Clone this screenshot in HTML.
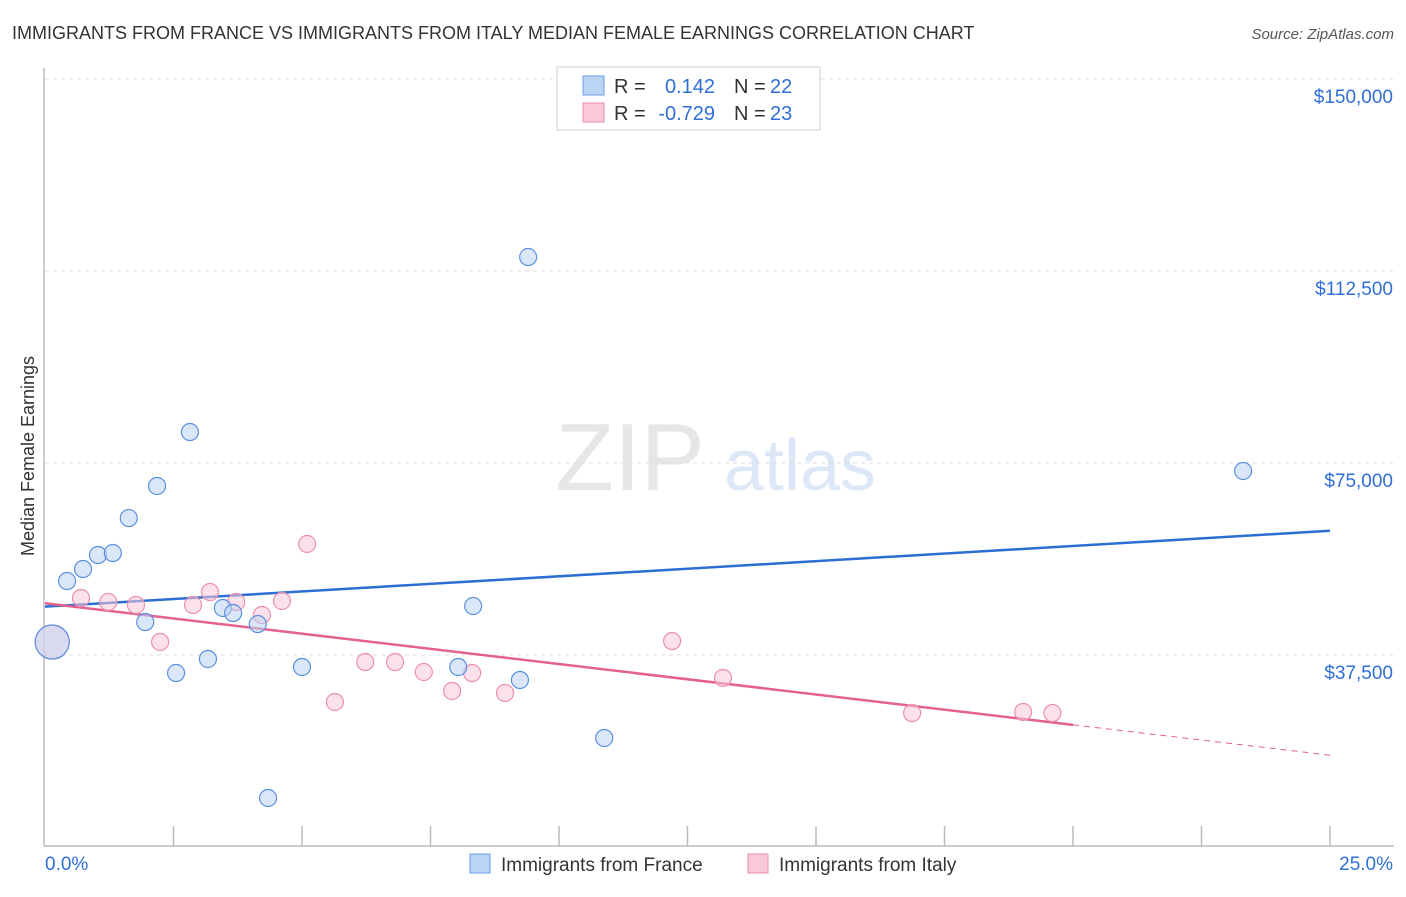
<!DOCTYPE html>
<html><head><meta charset="utf-8"><style>
body{margin:0;background:#fff;font-family:"Liberation Sans",sans-serif;}
svg text{font-family:"Liberation Sans",sans-serif;}
</style></head><body>
<svg id="chart" width="1406" height="892" xmlns="http://www.w3.org/2000/svg">
<text x="12" y="39" font-size="18" fill="#333">IMMIGRANTS FROM FRANCE VS IMMIGRANTS FROM ITALY MEDIAN FEMALE EARNINGS CORRELATION CHART</text>
<text x="1394" y="39" font-size="15" fill="#555" text-anchor="end" font-style="italic">Source: ZipAtlas.com</text>
<text x="630" y="490" font-size="96" fill="#e6e6e6" text-anchor="middle" font-family="Liberation Serif">ZIP</text>
<text x="800" y="490" font-size="72" fill="#dce8f7" text-anchor="middle">atlas</text>
<text transform="translate(34,456) rotate(-90)" font-size="18" fill="#333" text-anchor="middle">Median Female Earnings</text>
<g id="grid"></g><g id="axes"></g><g id="lines"></g><g id="pts"></g>
<g>
<rect x="557" y="67" width="263" height="63" fill="#fff" stroke="#ccc"/>
<rect x="583" y="76" width="21" height="19" fill="#bcd4f4" stroke="#6a9ee6"/>
<rect x="583" y="103" width="21" height="19" fill="#f9c9d8" stroke="#ea8fae"/>
<text x="614" y="93" font-size="20" fill="#333">R =</text><text x="715" y="93" font-size="20" fill="#2f6fd6" text-anchor="end">0.142</text>
<text x="734" y="93" font-size="20" fill="#333">N =</text><text x="770" y="93" font-size="20" fill="#2f6fd6">22</text>
<text x="614" y="120" font-size="20" fill="#333">R =</text><text x="715" y="120" font-size="20" fill="#2f6fd6" text-anchor="end">-0.729</text>
<text x="734" y="120" font-size="20" fill="#333">N =</text><text x="770" y="120" font-size="20" fill="#2f6fd6">23</text>
</g>
<g>
<rect x="470" y="854" width="20" height="19" fill="#bcd4f4" stroke="#6a9ee6"/>
<text x="501" y="871" font-size="19" fill="#333">Immigrants from France</text>
<rect x="748" y="854" width="20" height="19" fill="#f9c9d8" stroke="#ea8fae"/>
<text x="779" y="871" font-size="19" fill="#333">Immigrants from Italy</text>
</g>
</svg>
<script>
const franceX=[0.14,0.43,0.74,1.03,1.32,1.63,1.95,2.18,2.55,2.82,3.17,3.46,3.66,4.14,4.34,5.00,8.04,8.33,9.24,9.40,10.88,23.31];
const franceY=[40040,51950,54290,57030,57420,64250,43940,70510,33980,81050,36720,46680,45700,43550,9570,35160,35160,47070,32620,115230,21290,73440];
const italyX=[0.14,0.70,1.23,1.77,2.24,2.88,3.21,3.72,4.22,4.61,5.10,5.64,6.23,6.81,7.37,7.92,8.31,8.95,12.20,13.19,16.87,19.03,19.60];
const italyY=[40040,48630,47850,47270,40040,47270,49800,47850,45310,48050,59180,28320,36130,36130,34180,30470,33980,30080,40230,33010,26170,26370,26170];
const yTicks=[37500,75000,112500,150000];
const yTickLabels=["$37,500","$75,000","$112,500","$150,000"];
const xTickLabels=["0.0%","25.0%"];
const NS="http://www.w3.org/2000/svg";
const X=v=>45+v/25*1285;
const Y=v=>847-v/37500*192;
function mk(p,t,a){const e=document.createElementNS(NS,t);for(const k in a)e.setAttribute(k,a[k]);document.getElementById(p).appendChild(e);return e;}
yTicks.forEach((t,i)=>{
 const g=mk('grid','line',{x1:45,x2:1394,y1:Y(t),y2:Y(t),stroke:'#ddd','stroke-dasharray':'4,4'});
 
 
 const l=mk('axes','text',{x:1393,y:Y(t)+24,'font-size':19,fill:'#2f6fd6','text-anchor':'end'});l.textContent=yTickLabels[i];
 
 
});
const ax=mk('axes','line',{x1:44,x2:44,y1:68,y2:846,stroke:'#bbb','stroke-width':1.5});


const bx=mk('axes','line',{x1:44,x2:1394,y1:846,y2:846,stroke:'#bbb','stroke-width':1.5});


for(let i=1;i<=10;i++){const t=mk('axes','line',{x1:X(i*2.5),x2:X(i*2.5),y1:826,y2:846,stroke:'#bbb','stroke-width':1.5});
 
 }
xTickLabels.forEach((s,i)=>{const t=mk('axes','text',{x:i?1393:45,y:870,'font-size':19,fill:'#2f6fd6','text-anchor':i?'end':'start'});t.textContent=s;
 
 });
function fit(xs,ys){const n=xs.length;let mx=0,my=0;for(let i=0;i<n;i++){mx+=xs[i];my+=ys[i];}mx/=n;my/=n;let sxy=0,sxx=0;for(let i=0;i<n;i++){sxy+=(xs[i]-mx)*(ys[i]-my);sxx+=(xs[i]-mx)**2;}const b=sxy/sxx;return x=>my+b*(x-mx);}
const fb=fit(franceX,franceY),fp=fit(italyX,italyY);
const l1=mk('lines','line',{x1:X(0),y1:Y(fb(0)),x2:X(25),y2:Y(fb(25)),stroke:'#2b6fd4','stroke-width':2.5});


const xm=20;
const l2=mk('lines','line',{x1:X(0),y1:Y(fp(0)),x2:X(xm),y2:Y(fp(xm)),stroke:'#e4608e','stroke-width':2.5});


const l3=mk('lines','line',{x1:X(xm),y1:Y(fp(xm)),x2:X(25),y2:Y(fp(25)),stroke:'#e4608e','stroke-width':1,'stroke-dasharray':'6,5'});


function pts(xs,ys,fill,stroke,name){xs.forEach((x,i)=>{const c=mk('pts','circle',{cx:X(x),cy:Y(ys[i]),r:i===0?17:8.5,fill:fill,'fill-opacity':0.55,stroke:stroke,'stroke-width':1.2});
 
 });}
pts(italyX,italyY,'#f9c9d8','#ea8fae','italy-point');
pts(franceX,franceY,'#bcd4f4','#5b90e0','france-point');
</script>
</body></html>
